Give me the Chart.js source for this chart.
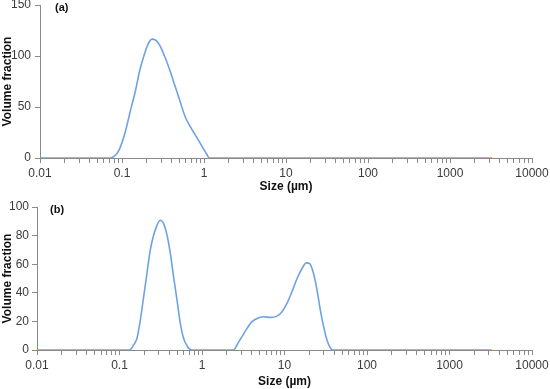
<!DOCTYPE html>
<html>
<head>
<meta charset="utf-8">
<script src="https://cdn.jsdelivr.net/npm/chart.js@4/dist/chart.umd.min.js"></script>
<style>
  html, body { margin: 0; padding: 0; background: #ffffff; }
  canvas { display: block; }
</style>
</head>
<body>
<canvas id="chartA" width="550" height="195"></canvas>
<canvas id="chartB" width="550" height="194"></canvas>
<script>
// ---- Data ----
const sizesA  = [0.01, 0.072, 0.08, 0.087, 0.0946, 0.109, 0.125, 0.144, 0.166, 0.191, 0.205, 0.219, 0.235, 0.252, 0.27, 0.291, 0.334, 0.385, 0.443, 0.509, 0.586, 0.675, 0.777, 0.894, 1.028, 1.1, 1.16, 3250];
const valuesA = [0,    0,     1.5,  4.5,   9.9,    24.7,  44.4,  64,    87,    103.6, 110.5, 115,   116.5, 116,   114,  110,   99,    85.5,  70.7,  55.9,  41,    31.2,  23,    14.8,  6.5,   2.5, 0,    0];

const sizesB  = [0.01, 0.132, 0.14, 0.148, 0.163, 0.179, 0.196, 0.215, 0.236, 0.259, 0.285, 0.298, 0.312, 0.327, 0.343, 0.377, 0.413, 0.453, 0.498, 0.546, 0.598, 0.669, 0.71, 0.756,
                 2.4, 2.52, 2.65, 3.05, 3.51, 4.04, 4.64, 5.58, 6.73, 8.11, 9.33, 10.7, 12.3, 14.2, 16.3, 18.4, 20.1, 22.5, 24.8, 27.2, 29.8, 32.7, 35.9, 38.7, 3250];
const valuesB = [0,    0,     1.2,  3.5,   8.2,   21,    37,    53.5,  69.8,  80.3,  87.2,  89.6,  90.7,  90.2,  88.4,  80.3,  67.5,  51,    34.9,  18.6,  8.2,   2.3,   0.6,  0,
                 0,   1.2,  3.5,  9.3,  15.1, 19.8, 22.1, 23.2, 22.8, 23.7, 26.7, 32.6, 40.7, 50,   57,   60.9, 60.5, 53.5, 41.9, 27.9, 16.3, 7,    1.6,  0,    0];

const xDecades = [0.01, 0.1, 1, 10, 100, 1000, 10000];
const xDecadeLabels = ['0.01', '0.1', '1', '10', '100', '1000', '10000'];
const minorSteps = [2, 3, 4, 5, 6, 7, 8, 9];
const yTicksA = [0, 50, 100, 150];
const yTicksB = [0, 20, 40, 60, 80, 100];
const panelLabels = ['(a)', '(b)'];
const xTitle = 'Size (µm)';
const yTitle = 'Volume fraction';

// ---- Styling ----
const FONT = "'Liberation Sans', Arial, sans-serif";
const AXIS = '#8a8a8a';
const TXT = '#3a3a3a';
const LINE = '#6fa2e2';

Chart.defaults.font.family = FONT;
Chart.defaults.devicePixelRatio = 1;

function allXTicks() {
  const t = [];
  for (let i = 0; i < xDecades.length; i++) {
    t.push({ value: xDecades[i] });
    if (i < xDecades.length - 1) {
      for (const m of minorSteps) t.push({ value: +(xDecades[i] * m).toPrecision(6) });
    }
  }
  return t;
}

const panelLabelPlugin = {
  id: 'panelLabel',
  afterDraw(chart, args, opts) {
    const ctx = chart.ctx;
    ctx.save();
    ctx.font = 'bold 11px ' + FONT;
    ctx.fillStyle = '#111';
    ctx.textAlign = 'left';
    ctx.textBaseline = 'middle';
    ctx.fillText(opts.text, opts.x, opts.y);
    ctx.restore();
  }
};

function makeChart(id, sizes, values, yTicks, cfg) {
  const pts = sizes.map((s, i) => ({ x: s, y: values[i] }));
  return new Chart(document.getElementById(id), {
    type: 'line',
    data: {
      datasets: [{
        data: pts,
        borderColor: LINE,
        borderWidth: 1.6,
        pointRadius: 0,
        fill: false,
        cubicInterpolationMode: 'monotone'
      }]
    },
    options: {
      responsive: false,
      animation: false,
      devicePixelRatio: 1,
      layout: { padding: { left: 0, right: cfg.padRight, top: cfg.padTop, bottom: 0 } },
      plugins: {
        legend: { display: false },
        tooltip: { enabled: false },
        panelLabel: { text: cfg.label, x: cfg.labelX, y: cfg.labelY }
      },
      scales: {
        x: {
          type: 'logarithmic',
          min: 0.01,
          max: 10000,
          afterBuildTicks(scale) { scale.ticks = allXTicks(); },
          afterFit(scale) { scale.height = cfg.xHeight; scale.paddingLeft = 0; scale.paddingRight = 0; },
          grid: { drawOnChartArea: false, drawTicks: true, tickLength: 5, tickColor: AXIS, tickWidth: 1 },
          border: { display: true, color: AXIS, width: 1 },
          ticks: {
            autoSkip: false,
            maxRotation: 0,
            padding: 3,
            color: TXT,
            font: { size: 12 },
            callback(v) {
              const i = xDecades.findIndex(d => Math.abs(d - v) / d < 1e-6);
              return i >= 0 ? xDecadeLabels[i] : '';
            }
          },
          title: { display: true, text: xTitle, color: '#111', font: { size: 12, weight: 'bold' }, padding: { top: 0, bottom: cfg.xTitlePad } }
        },
        y: {
          min: yTicks[0],
          max: yTicks[yTicks.length - 1],
          afterBuildTicks(scale) { scale.ticks = yTicks.map(v => ({ value: v })); },
          afterFit(scale) { scale.width = cfg.yWidth; scale.paddingTop = 0; scale.paddingBottom = 0; },
          grid: { drawOnChartArea: false, drawTicks: true, tickLength: 5, tickColor: AXIS, tickWidth: 1 },
          border: { display: true, color: AXIS, width: 1 },
          ticks: { padding: cfg.yTickPad, color: TXT, font: { size: 12 } },
          title: { display: true, text: yTitle, color: '#111', font: { size: 12, weight: 'bold' }, padding: { top: 0, bottom: 0 } }
        }
      }
    },
    plugins: [panelLabelPlugin]
  });
}

makeChart('chartA', sizesA, valuesA, yTicksA, {
  padRight: 18, padTop: 5, xHeight: 37, yWidth: 40, yTickPad: 4, xTitlePad: 1,
  label: panelLabels[0], labelX: 55, labelY: 8
});
makeChart('chartB', sizesB, valuesB, yTicksB, {
  padRight: 18, padTop: 12, xHeight: 39, yWidth: 37, yTickPad: 3, xTitlePad: 0,
  label: panelLabels[1], labelX: 50, labelY: 15
});
</script>
</body>
</html>
